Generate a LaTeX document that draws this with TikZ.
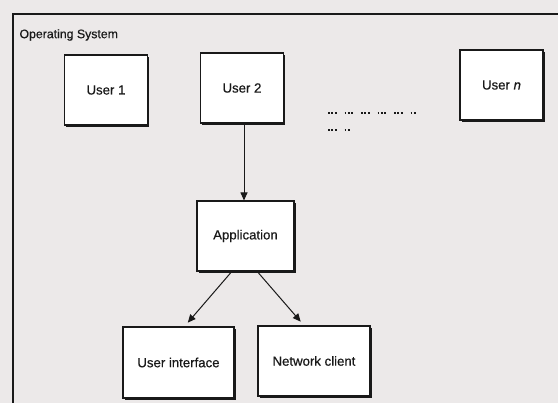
\documentclass[tikz,border=0pt]{standalone}
\usepackage{fontspec}
\setmainfont{Liberation Sans}
\newfontfamily\labfont[FakeBold=0.5]{Liberation Sans}
\usetikzlibrary{arrows.meta,shadows,calc}
\definecolor{bgcol}{RGB}{236,233,233}
\definecolor{ink}{RGB}{25,25,25}
\begin{document}
\begin{tikzpicture}[x=1pt,y=-1pt,
  box/.style={draw=ink,line width=1.1pt,fill=white,minimum width=83pt,minimum height=70pt,
    inner sep=0pt,font=\labfont\fontsize{13.2}{15}\selectfont,text=ink,
    drop shadow={shadow xshift=1.6pt,shadow yshift=-1.8pt,fill=ink,opacity=1}},
  arr/.style={draw=ink,line width=1pt,-{Triangle[length=8pt,width=7pt]}},
  frame/.style={draw=ink,line width=1.4pt},
  dotrow/.style={draw=ink,line width=1.8pt,dash pattern=on 1.8pt off 1.6pt}]
\useasboundingbox[fill=bgcol] (0,0) rectangle (558,403);
% outer frame (open at right and bottom, cropped)
\draw[frame] (13,410) -- (13,14) -- (565,14);
\node[anchor=west,font=\labfont\fontsize{12.3}{14}\selectfont,text=ink] (os) at (16,35) {Operating System};
% user boxes
\node[box] (u1) at (106,90) {User 1};
\node[box] (u2) at (242,88) {User 2};
\node[box] (un) at (501.5,85) {User \textit{n}};
\node[box,minimum width=97pt] (app) at (245.5,236) {Application};
\node[box,minimum width=111pt,minimum height=71pt] (ui) at (178.5,362.5) {User interface};
\node[box,minimum width=112pt,minimum height=70pt] (nc) at (314,361) {Network client};
% connectors
\draw[arr] ($(u2.south)+(2,0)$) -- ($(app.north)+(-1.5,0)$);
\draw[arr,shorten >=5pt] ($(app.south west)!0.36!(app.south east)$) -- ($(ui.north)+(6,0)$);
\draw[arr,shorten >=5pt] ($(app.south west)!0.62!(app.south east)$) -- ($(nc.north)+(-10,0)$);
% ellipsis rows (placeholder text)
\foreach \gx in {328,344.5,361,377.5,394} \draw[dotrow] (\gx,113) -- +(8.6,0);
\draw[dotrow] (410.5,113) -- +(5.2,0);
\draw[dotrow] (328,130) -- +(8.6,0);
\draw[dotrow] (344.5,130) -- +(5.2,0);
\end{tikzpicture}
\end{document}
